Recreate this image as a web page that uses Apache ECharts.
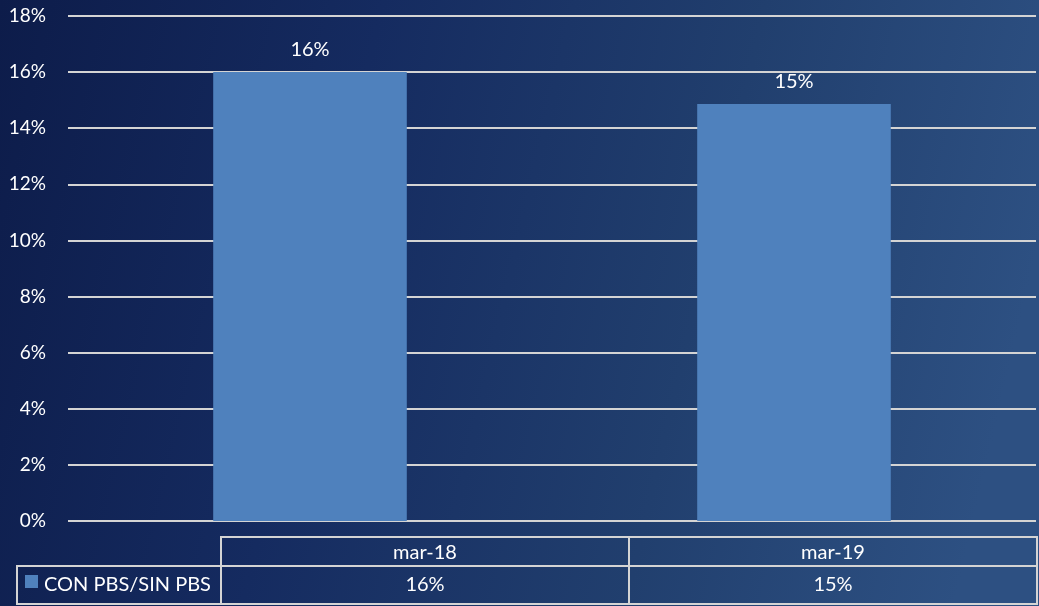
<!DOCTYPE html>
<html>
<head>
    <meta charset="utf-8">
    <title>CON PBS/SIN PBS</title>
    <script src="https://cdn.jsdelivr.net/npm/echarts@6/dist/echarts.min.js"></script>
    <style>
        html, body { margin: 0; padding: 0; }
    </style>
</head>
<body>
<div id="chart-container" style="width: 1039px; height: 606px;"></div>
<script>
    // datos
    var categories = ['mar-18', 'mar-19'];
    var seriesName = 'CON PBS/SIN PBS';
    var values = [0.16, 0.1486];
    var tableLabels = ['16%', '15%'];

    var fontFam = 'Lato, "Open Sans", sans-serif';
    var fontSize = 20;
    var lineCol = '#d4d4d4';

    // tabla de datos debajo del eje (celdas)
    var tableLeft = 221, colW = 408, row1Top = 537, row1H = 29, row2H = 38;
    var tableGraphics = [];
    categories.forEach(function (cat, i) {
        var x = tableLeft + i * colW;
        tableGraphics.push({
            type: 'rect',
            shape: { x: x, y: row1Top, width: colW, height: row1H },
            style: { fill: 'transparent', stroke: lineCol, lineWidth: 2 }
        });
        tableGraphics.push({
            type: 'rect',
            shape: { x: x, y: row1Top + row1H, width: colW, height: row2H },
            style: { fill: 'transparent', stroke: lineCol, lineWidth: 2 }
        });
        tableGraphics.push({
            type: 'text',
            x: x + colW / 2, y: row1Top + row1H / 2 + 1,
            style: { text: cat, fill: '#fff', font: fontSize + 'px ' + fontFam, align: 'center', verticalAlign: 'middle' }
        });
        tableGraphics.push({
            type: 'text',
            x: x + colW / 2, y: row1Top + row1H + row2H / 2,
            style: { text: tableLabels[i], fill: '#fff', font: fontSize + 'px ' + fontFam, align: 'center', verticalAlign: 'middle' }
        });
    });
    // celda de leyenda
    tableGraphics.push({
        type: 'rect',
        shape: { x: 17, y: row1Top + row1H, width: tableLeft - 17, height: row2H },
        style: { fill: 'transparent', stroke: lineCol, lineWidth: 2 }
    });
    tableGraphics.push({
        type: 'rect',
        shape: { x: 25, y: 575, width: 13, height: 13 },
        style: { fill: '#4f81bd' }
    });
    tableGraphics.push({
        type: 'text',
        x: 44, y: row1Top + row1H + row2H / 2,
        style: { text: seriesName, fill: '#fff', font: fontSize + 'px ' + fontFam, align: 'left', verticalAlign: 'middle' }
    });

    var option = {
        backgroundColor: new echarts.graphic.LinearGradient(0, 0, 1, 0.4, [
            { offset: 0, color: '#0d1c4a' },
            { offset: 0.35, color: '#152b60' },
            { offset: 0.7, color: '#213f6e' },
            { offset: 1, color: '#2d5082' }
        ]),
        animation: false,
        grid: {
            left: 68,
            right: 3,
            top: 16,
            bottom: 85
        },
        xAxis: {
            type: 'category',
            data: categories,
            axisLine: { show: false },
            axisTick: { show: false },
            axisLabel: { show: false }
        },
        yAxis: {
            type: 'value',
            min: 0,
            max: 0.18,
            interval: 0.02,
            axisLine: { show: false },
            axisTick: { show: false },
            axisLabel: {
                color: '#fff',
                fontSize: 19,
                fontFamily: fontFam,
                margin: 22,
                formatter: function (v) {
                    return Math.round(v * 100) + '%';
                }
            },
            splitLine: {
                lineStyle: { color: lineCol, width: 2 }
            }
        },
        series: [{
            name: seriesName,
            type: 'bar',
            barWidth: '40%',
            data: values,
            itemStyle: { color: '#4f81bd' },
            label: {
                show: true,
                position: 'top',
                distance: 13,
                color: '#fff',
                fontSize: fontSize,
                fontFamily: fontFam,
                formatter: function (p) {
                    return Math.round(p.value * 100) + '%';
                }
            }
        }],
        graphic: tableGraphics
    };

    var chart = echarts.init(document.getElementById('chart-container'));
    chart.setOption(option);
</script>
</body>
</html>
